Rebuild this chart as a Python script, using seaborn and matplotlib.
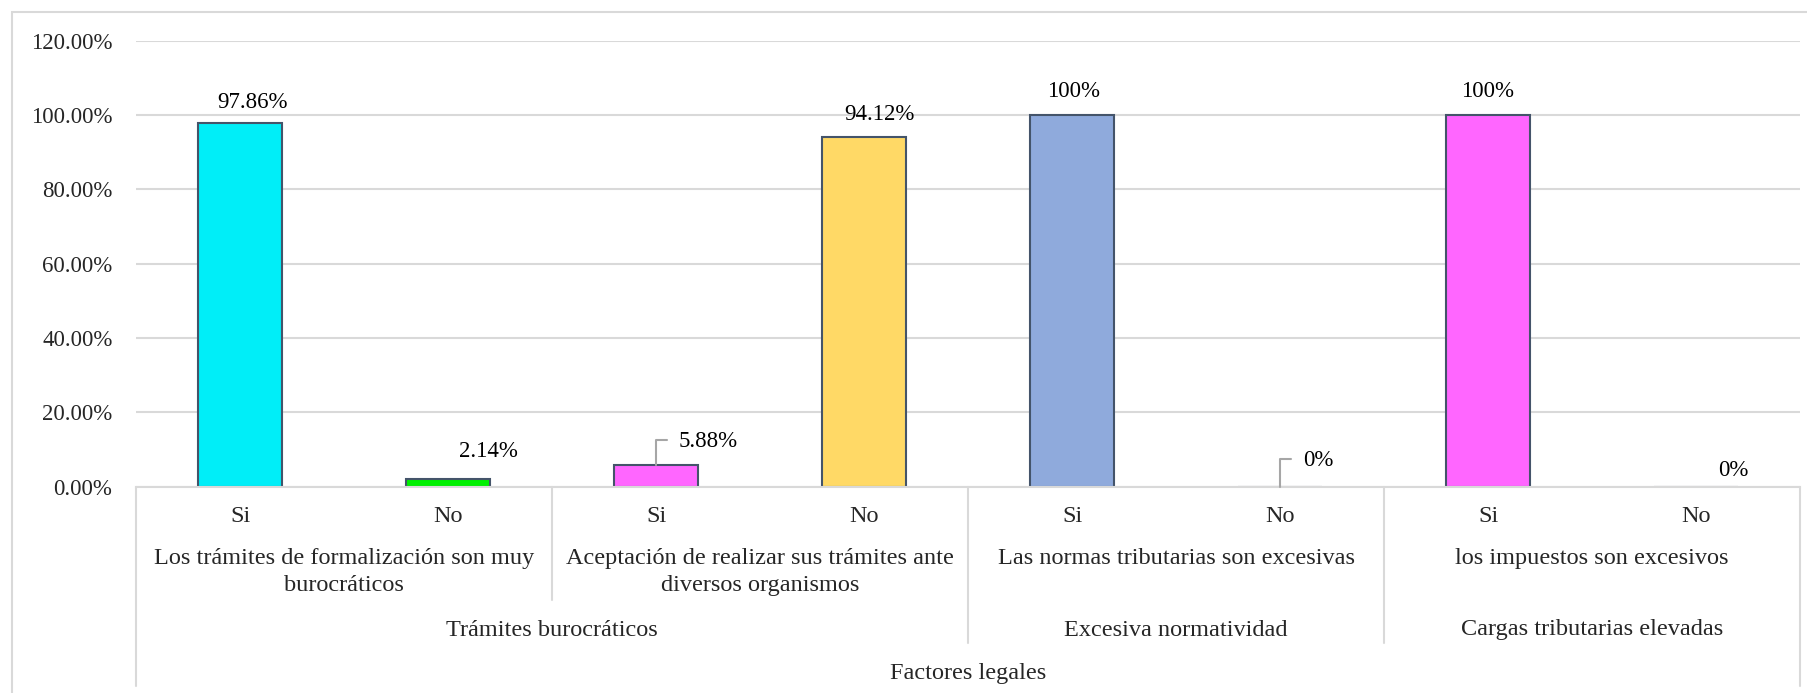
import matplotlib
matplotlib.use("Agg")
import matplotlib.pyplot as plt
from matplotlib.ticker import PercentFormatter
from matplotlib.patches import Rectangle
import seaborn as sns
import pandas as pd

# Data
answers = ["Si", "No", "Si", "No", "Si", "No", "Si", "No"]
values = [0.9786, 0.0214, 0.0588, 0.9412, 1.00, 0.00, 1.00, 0.00]
value_labels = ["97.86%", "2.14%", "5.88%", "94.12%", "100%", "0%", "100%", "0%"]
questions = ["Los trámites de formalización son muy\nburocráticos",
             "Aceptación de realizar sus trámites ante\ndiversos organismos",
             "Las normas tributarias son excesivas",
             "los impuestos son excesivos"]
subfactors = ["Trámites burocráticos", "Excesiva normatividad", "Cargas tributarias elevadas"]
subfactor_sizes = [4, 2, 2]
factor = "Factores legales"
bar_colors = ["#00EEF8", "#00F000", "#FF66FF", "#FFD966", "#8FAADC", "#8FAADC", "#FF66FF", "#FF66FF"]

keys = [f"{i}_{a}" for i, a in enumerate(answers)]
df = pd.DataFrame({"key": keys, "value": values})

sns.set_style("white")
plt.rcParams["font.family"] = ["Liberation Serif", "DejaVu Serif"]

fig = plt.figure(figsize=(18.07, 6.93), dpi=100)
ax = fig.add_axes([136 / 1807, 1 - 486.7 / 693, 1664 / 1807, 446 / 693])

grid_color = "#D9D9D9"
fig.patches.append(Rectangle((12 / 1807, -0.05), 1.1, 1 - 12 / 693 + 0.05,
                             transform=fig.transFigure, fill=False,
                             edgecolor=grid_color, linewidth=1.5))

sns.barplot(data=df, x="key", y="value", hue="key", palette=bar_colors,
            saturation=1, legend=False, width=0.4, edgecolor="#44546A",
            linewidth=1.5, ax=ax)

ax.set_ylim(0, 1.2)
ax.set_xlim(-0.5, len(values) - 0.5)
ax.set_yticks([0, 0.2, 0.4, 0.6, 0.8, 1.0, 1.2])
ax.yaxis.set_major_formatter(PercentFormatter(xmax=1, decimals=2))
ax.tick_params(axis="y", length=0, pad=17, labelsize=16.5)
ax.set_xticks([])
ax.set_xlabel("")
ax.set_ylabel("")
ax.grid(axis="y", color=grid_color, linewidth=1.5)
ax.set_axisbelow(True)
for side in ["top", "right", "left"]:
    ax.spines[side].set_visible(False)
ax.spines["bottom"].set_color(grid_color)
ax.spines["bottom"].set_linewidth(1.5)

# data labels (offsets in pixels, as placed in the original)
offsets = [(13, 20), (40, 27), (52, 23), (15, 22), (2, 24), (38, 26), (0, 24), (37, 16)]
leaders = [False, False, True, False, False, True, False, False]
for i, (v, lab) in enumerate(zip(values, value_labels)):
    kw = {}
    if leaders[i]:
        kw["arrowprops"] = dict(arrowstyle="-", color="#A6A6A6", lw=1.5,
                                connectionstyle="angle,angleA=0,angleB=90,rad=0",
                                relpos=(0, 0.6), shrinkA=6, shrinkB=0)
    ax.annotate(lab, xy=(i, v), xytext=offsets[i], textcoords="offset pixels",
                ha="center", va="center", fontsize=16.5, color="black", **kw)

# multi-level category axis
trans = ax.get_xaxis_transform()
cat_size = 17.5


def fy(ypx):
    return (486.7 - ypx) / 446


def vline(x, ybottom):
    ax.plot([x, x], [0, fy(ybottom)], transform=trans, color=grid_color,
            linewidth=1.5, clip_on=False)


for i, a in enumerate(answers):
    ax.text(i, fy(516), a, transform=trans, ha="center", va="center", fontsize=cat_size)

for j, q in enumerate(questions):
    ax.text(2 * j + 0.5, fy(548), q, transform=trans, ha="center", va="top",
            fontsize=cat_size, linespacing=1.4)

start = 0
for name, size in zip(subfactors, subfactor_sizes):
    ax.text(start + size / 2 - 0.5, fy(630), name, transform=trans,
            ha="center", va="center", fontsize=cat_size)
    start += size

ax.text((len(values) - 1) / 2, fy(673), factor, transform=trans,
        ha="center", va="center", fontsize=cat_size)

# separators
vline(1.5, 600)
vline(3.5, 643)
vline(5.5, 643)
vline(-0.5, 686)
vline(len(values) - 0.5, 686)

fig.savefig("out.png", dpi=100)
